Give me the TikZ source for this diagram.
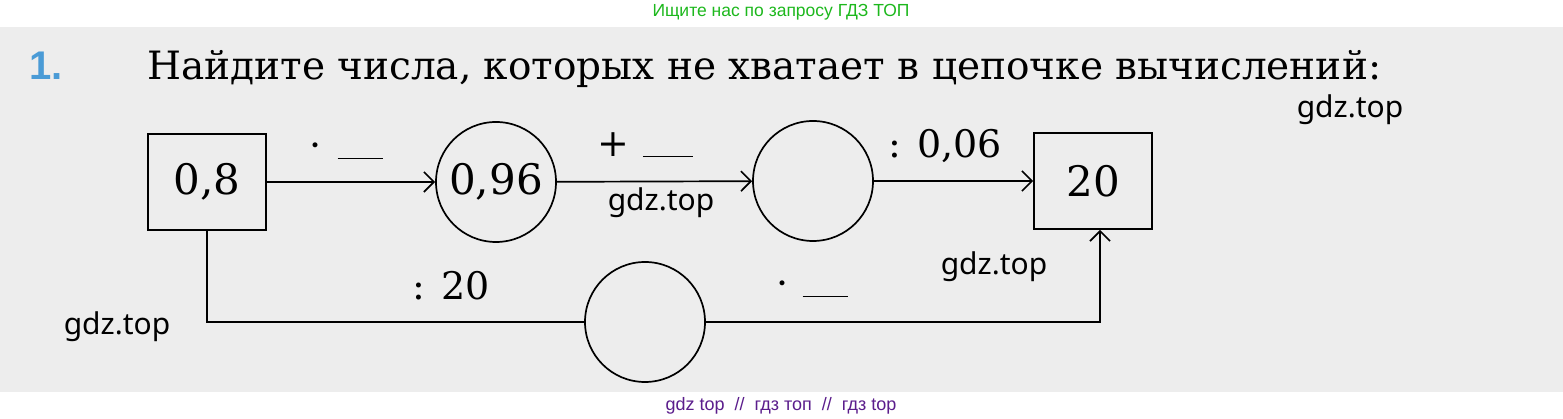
\documentclass[tikz,border=0pt]{standalone}
\usepackage{fontspec}
\setmainfont{DejaVu Serif}
\newfontfamily\marksans{Noto Sans}
\newfontfamily\bandsans{Liberation Sans}
\usetikzlibrary{arrows.meta}
\definecolor{scangray}{HTML}{EDEDED}
\definecolor{numblue}{HTML}{4A9BD6}
\definecolor{bandgreen}{HTML}{1DB81D}
\definecolor{bandpurple}{HTML}{5B1D8C}

\begin{document}
\begin{tikzpicture}[x=1pt,y=1pt,
  every node/.style={inner sep=0pt},
  numbox/.style={draw,line width=1.7pt,minimum width=118pt,minimum height=96pt,font=\fontsize{42}{42}\selectfont},
  numcirc/.style={draw,circle,line width=1.7pt,minimum size=120pt,font=\fontsize{42}{42}\selectfont},
  link/.style={line width=1.7pt,-{Straight Barb[length=10pt,width=20pt,line width=1.7pt]}},
  oplabel/.style={anchor=base,font=\fontsize{38}{38}\selectfont},
  watermark/.style={font=\marksans\fontsize{30}{30}\selectfont}]
\useasboundingbox (0,0) rectangle (1563,419);
\fill[white] (0,0) rectangle (1563,419);
\fill[scangray] (0,27) rectangle (1563,392);
% heading
\node[anchor=base west,text=numblue,font=\bandsans\bfseries\fontsize{40}{40}\selectfont] (num) at (29,339) {1.};
\node[anchor=base west,font=\fontsize{39}{39}\selectfont] (task) at (147,339) {Найдите числа, которых не хватает в цепочке вычислений:};
% chain
\node[numbox] (start) at (207,237) {0,8};
\node[numcirc] (first) at (496,237) {0,96};
\node[numcirc] (second) at (813,238) {};
\node[numbox] (finish) at (1093,238) {20};
\node[numcirc] (third) at (645,97) {};
\draw[link] (start) -- (first);
\draw[link] (first) -- (second);
\draw[link] (second) -- (finish);
\draw[line width=1.7pt] (start) |- (third);
\draw[link] (third) -| ([xshift=7pt]finish.south);
% operations
\node[oplabel] (opmul) at (346,260) {·\hspace{16pt}\rule{45pt}{1.4pt}};
\node[oplabel] (opadd) at (645,262) {+\hspace{14pt}\rule{50pt}{1.4pt}};
\node[oplabel] (opdiv) at (945,261) {: 0,06};
\node[oplabel] (opdivb) at (451,119) {: 20};
\node[oplabel] (opmulb) at (812,122) {·\hspace{14pt}\rule{45pt}{1.4pt}};
% marks
\node[watermark] (mark1) at (1350,309) {gdz.top};
\node[watermark] (mark2) at (661,216) {gdz.top};
\node[watermark] (mark3) at (994,152) {gdz.top};
\node[watermark] (mark4) at (117,92) {gdz.top};
\node[text=bandgreen,font=\bandsans\fontsize{17.5}{17.5}\selectfont] (topband) at (781,407) {Ищите нас по запросу ГДЗ ТОП};
\node[text=bandpurple,font=\bandsans\fontsize{18}{18}\selectfont] (botband) at (781,13) {gdz top \ // \ гдз топ \ // \ гдз top};
\end{tikzpicture}
\end{document}
